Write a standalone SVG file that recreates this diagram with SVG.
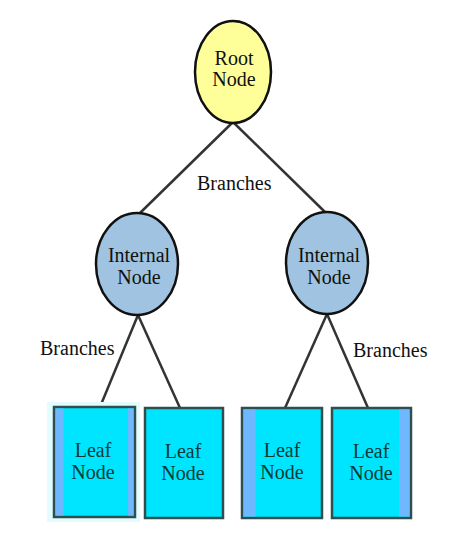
<svg xmlns="http://www.w3.org/2000/svg" width="463" height="550" viewBox="0 0 463 550">
<style>
.t{font-family:"Liberation Serif","Times New Roman",serif;font-size:20px;fill:#111;text-anchor:middle}
.lt{font-family:"Liberation Serif","Times New Roman",serif;font-size:20px;fill:#0b3a36;text-anchor:middle}
.br{font-family:"Liberation Serif","Times New Roman",serif;font-size:20px;fill:#111}
.e{stroke:#111;stroke-width:2.5}
.leaf{fill:#00e5ff;stroke:#2f4f4f;stroke-width:2.5}
.strip{fill:#6fb8ff}
.c{stroke:#333;stroke-width:2.5;fill:none}
</style>
<rect width="463" height="550" fill="#fff"/>
<g id="connectors">
<line class="c" x1="233" y1="122" x2="140" y2="213"/>
<line class="c" x1="233" y1="122" x2="326" y2="213"/>
<line class="c" x1="138" y1="315" x2="100" y2="407"/>
<line class="c" x1="138" y1="315" x2="180" y2="408"/>
<line class="c" x1="327" y1="314" x2="285" y2="408"/>
<line class="c" x1="327" y1="314" x2="368" y2="408"/>
</g>
<g id="root">
<ellipse class="e" cx="233" cy="72" rx="38" ry="51" fill="#ffff99"/>
<text class="t" x="234" y="65">Root</text>
<text class="t" x="234" y="86">Node</text>
</g>
<g id="internal-left">
<ellipse class="e" cx="137" cy="264" rx="41" ry="51" fill="#9fc3e0"/>
<text class="t" x="139" y="262">Internal</text>
<text class="t" x="139" y="284">Node</text>
</g>
<g id="internal-right">
<ellipse class="e" cx="327" cy="263" rx="41" ry="51" fill="#9fc3e0"/>
<text class="t" x="329" y="262">Internal</text>
<text class="t" x="329" y="284">Node</text>
</g>
<g id="leaf1">
<rect x="47" y="402" width="93" height="120" fill="#e3fcff"/>
<rect class="leaf" x="54" y="407" width="81" height="110"/>
<rect class="strip" x="55.5" y="408.5" width="8" height="107"/>
<rect class="strip" x="128" y="408.5" width="5.5" height="107"/>
<text class="lt" x="93" y="457">Leaf</text>
<text class="lt" x="93" y="479">Node</text>
</g>
<g id="leaf2">
<rect class="leaf" x="145" y="408" width="78" height="110" stroke="#1a7a6a"/>
<text class="lt" x="183" y="458">Leaf</text>
<text class="lt" x="183" y="480">Node</text>
</g>
<g id="leaf3">
<rect class="leaf" x="242" y="408" width="80" height="110"/>
<rect class="strip" x="243.5" y="409.5" width="12" height="107"/>
<text class="lt" x="282" y="457">Leaf</text>
<text class="lt" x="282" y="479">Node</text>
</g>
<g id="leaf4">
<rect class="leaf" x="332" y="408" width="79" height="110"/>
<rect class="strip" x="399" y="409.5" width="10.5" height="107"/>
<text class="lt" x="371" y="458">Leaf</text>
<text class="lt" x="371" y="480">Node</text>
</g>
<g id="labels">
<text class="br" x="197" y="190">Branches</text>
<text class="br" x="40" y="355">Branches</text>
<text class="br" x="353" y="357">Branches</text>
</g>
</svg>
